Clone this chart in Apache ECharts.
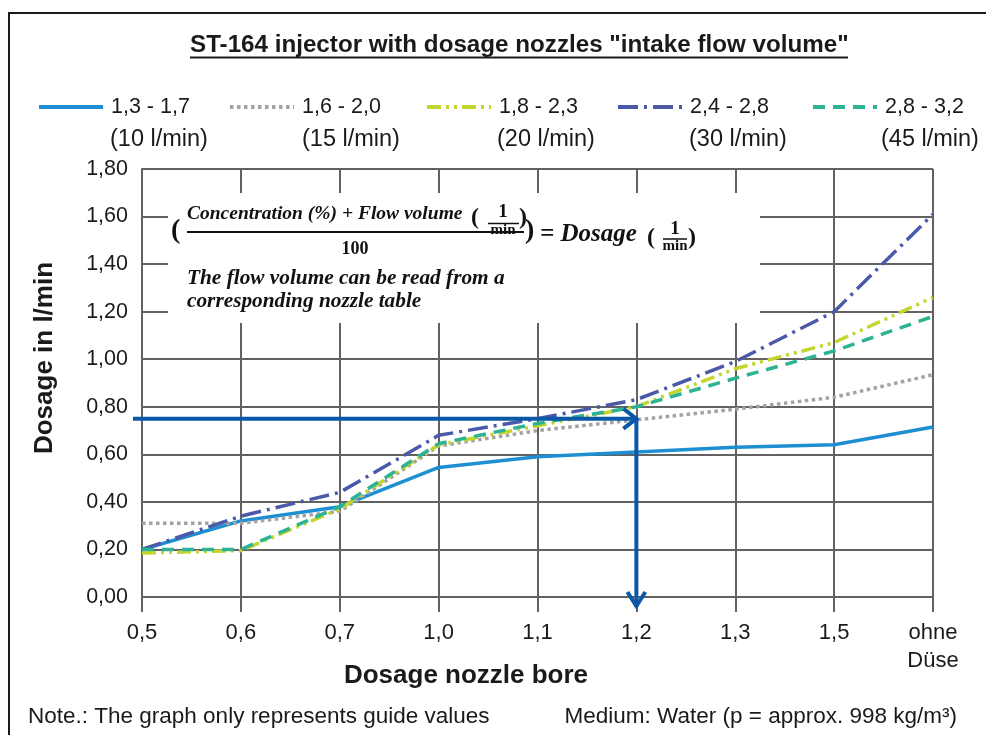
<!DOCTYPE html>
<html><head><meta charset="utf-8">
<script src="https://cdn.jsdelivr.net/npm/echarts@6/dist/echarts.min.js"></script>
<style>html,body{margin:0;padding:0;background:#fff}#c{width:986px;height:735px}</style>
</head><body><div id="c"></div>
<script>
// ---- data ----
const categories = ['0,5','0,6','0,7','1,0','1,1','1,2','1,3','1,5','ohne\nDüse'];
const seriesNames = ['1,3 - 1,7','1,6 - 2,0','1,8 - 2,3','2,4 - 2,8','2,8 - 3,2'];
const flowLabels = ['(10 l/min)','(15 l/min)','(20 l/min)','(30 l/min)','(45 l/min)'];
const s1 = [0.20, 0.32, 0.38, 0.545, 0.59, 0.61, 0.63, 0.64, 0.715];
const s2 = [0.31, 0.31, 0.36, 0.635, 0.70, 0.745, 0.79, 0.84, 0.935];
const s3 = [0.185, 0.195, 0.37, 0.64, 0.72, 0.80, 0.96, 1.07, 1.26];
const s4 = [0.20, 0.34, 0.44, 0.68, 0.75, 0.83, 0.99, 1.20, 1.61];
const s5 = [0.20, 0.20, 0.38, 0.645, 0.73, 0.80, 0.92, 1.035, 1.18];
const yMin = 0, yMax = 1.8, yStep = 0.2;
const guideValue = 0.75, guideCategory = '1,2';

// ---- styles ----
const colors = ['#1e8fd3', '#a3a3a3', '#c4d52e', '#4a5aa8', '#2db393'];
const dashes = ['solid', [3.5, 3.5], [14, 5, 3, 5, 3, 5], [20, 6, 3, 6], [12, 8]];
const gridColor = '#626262';
const sans = 'Liberation Sans, Arial, sans-serif';
const serif = 'Liberation Serif, Times New Roman, serif';
const arrowColor = '#0b58a6';

const chart = echarts.init(document.getElementById('c'));
const allData = [s1, s2, s3, s4, s5];
const legendLefts = [37, 228, 425, 616, 811];

chart.setOption({
  animation: false,
  backgroundColor: '#fff',
  title: {
    text: 'ST-164 injector with dosage nozzles "intake flow volume"',
    left: 190, top: 33, padding: 0,
    textStyle: { fontFamily: sans, fontSize: 24.2, fontWeight: 'bold', color: '#1a1a1a' }
  },
  legend: seriesNames.map((n, i) => ({
    data: [n], left: legendLefts[i], top: 96, padding: 0,
    itemWidth: 64, itemHeight: 14, itemGap: 0,
    itemStyle: { opacity: 0, borderWidth: 0 },
    lineStyle: { width: 4 },
    textStyle: { fontFamily: sans, fontSize: 21.5, color: '#1a1a1a', padding: [0, 0, 0, 3] }
  })),
  grid: { left: 142, right: 53, top: 169, bottom: 138 },
  xAxis: {
    type: 'category', data: categories, boundaryGap: false,
    name: 'Dosage nozzle bore', nameLocation: 'middle', nameGap: 66, nameMoveOverlap: false,
    nameTextStyle: { fontFamily: sans, fontSize: 26, fontWeight: 'bold', color: '#1a1a1a', padding: [0, 143, 0, 0] },
    axisLine: { show: true, lineStyle: { color: gridColor, width: 2 } },
    axisTick: { show: true, length: 15, inside: false, lineStyle: { color: gridColor, width: 2 } },
    axisLabel: { fontFamily: sans, fontSize: 22, color: '#1a1a1a', margin: 22, lineHeight: 28, interval: 0 },
    splitLine: { show: true, lineStyle: { color: gridColor, width: 2 } }
  },
  yAxis: {
    type: 'value', min: yMin, max: yMax, interval: yStep,
    name: 'Dosage in l/min', nameLocation: 'middle', nameGap: 84, nameMoveOverlap: false,
    nameTextStyle: { fontFamily: sans, fontSize: 26, fontWeight: 'bold', color: '#1a1a1a', padding: [0, 0, 0, 50] },
    axisLine: { show: true, lineStyle: { color: gridColor, width: 2 } },
    axisTick: { show: false },
    axisLabel: { fontFamily: sans, fontSize: 21.5, color: '#1a1a1a', margin: 14,
      formatter: v => v.toFixed(2).replace('.', ',') },
    splitLine: { show: true, lineStyle: { color: gridColor, width: 2 } }
  },
  series: seriesNames.map((n, i) => ({
    name: n, type: 'line', data: allData[i], symbol: 'none', showSymbol: false,
    lineStyle: { color: colors[i], width: 3.5, type: dashes[i] },
    itemStyle: { color: colors[i] },
    z: 3
  }))
});

// ---- annotations (positioned through the axes) ----
const p = chart.convertToPixel({ gridIndex: 0 }, [guideCategory, guideValue]);
const p0 = chart.convertToPixel({ gridIndex: 0 }, [guideCategory, yMin]);
const ax = p[0], ay = p[1], y0 = p0[1];

function txt(text, x, y, font, opts) {
  return Object.assign({ type: 'text', x: x, y: y, z: 100,
    style: Object.assign({ text: text, font: font, fill: '#111', align: 'left', verticalAlign: 'middle' }, opts || {}) });
}
function seg(x1, y1, x2, y2, w, c) {
  return { type: 'line', z: 100, shape: { x1, y1, x2, y2 }, style: { stroke: c || '#111', lineWidth: w || 2 } };
}
const bi = 'italic bold ';
const b = 'bold ';
const g = [];
// frame
g.push({ type: 'rect', z: 0, shape: { x: 9, y: 13, width: 1100, height: 1000 }, style: { fill: null, stroke: '#1a1a1a', lineWidth: 2 } });
// title underline
g.push(seg(190, 57.5, 848, 57.5, 2, '#1a1a1a'));
// legend second lines
const flowX = [110, 302, 497, 689, 881];
flowLabels.forEach((t, i) => g.push(txt(t, flowX[i], 140, '23.5px ' + sans, { fill: '#1a1a1a' })));
// formula box
g.push({ type: 'rect', z: 90, shape: { x: 168, y: 193, width: 592, height: 130 }, style: { fill: '#fff' } });
g.push(txt('(', 171, 231, b + '28px ' + serif));
g.push(txt('Concentration (%) + Flow volume', 187, 214, bi + '19.5px ' + serif));
g.push(txt('(', 471, 218, b + '24px ' + serif));
g.push(txt('1', 503, 212, b + '19px ' + serif, { align: 'center' }));
g.push(seg(488, 223.5, 519, 223.5, 1.5));
g.push(txt('min', 503, 230, b + '15px ' + serif, { align: 'center' }));
g.push(txt(')', 519, 218, b + '24px ' + serif));
g.push(seg(187, 232, 524, 232, 2));
g.push(txt('100', 355, 249, b + '18px ' + serif, { align: 'center' }));
g.push(txt(')', 525, 231, b + '28px ' + serif));
g.push(txt('= Dosage', 540, 235, bi + '25px ' + serif));
g.push(txt('(', 647, 238, b + '24px ' + serif));
g.push(txt('1', 675, 229, b + '19px ' + serif, { align: 'center' }));
g.push(seg(663, 239, 687, 239, 1.5));
g.push(txt('min', 675, 246, b + '15px ' + serif, { align: 'center' }));
g.push(txt(')', 688, 238, b + '24px ' + serif));
g.push(txt('The flow volume can be read from a', 187, 278, bi + '21.3px ' + serif));
g.push(txt('corresponding nozzle table', 187, 301, bi + '21.3px ' + serif));
// guide arrow
g.push({ type: 'polyline', z: 110, shape: { points: [[133, ay], [ax, ay]] }, style: { stroke: arrowColor, lineWidth: 4 } });
g.push({ type: 'polyline', z: 110, shape: { points: [[ax - 13, ay - 10], [ax, ay], [ax - 13, ay + 10]] }, style: { stroke: arrowColor, lineWidth: 4, fill: null } });
g.push({ type: 'polyline', z: 110, shape: { points: [[ax, ay], [ax, y0 + 10]] }, style: { stroke: arrowColor, lineWidth: 4 } });
g.push({ type: 'polyline', z: 110, shape: { points: [[ax - 9, y0 - 5], [ax, y0 + 9], [ax + 9, y0 - 5]] }, style: { stroke: arrowColor, lineWidth: 4, fill: null } });
// notes
g.push(txt('Note.: The graph only represents guide values', 28, 717, '22.5px ' + sans, { fill: '#1a1a1a' }));
g.push(txt('Medium: Water (p = approx. 998 kg/m³)', 957, 717, '22.5px ' + sans, { fill: '#1a1a1a', align: 'right' }));

chart.setOption({ graphic: g });
</script></body></html>
